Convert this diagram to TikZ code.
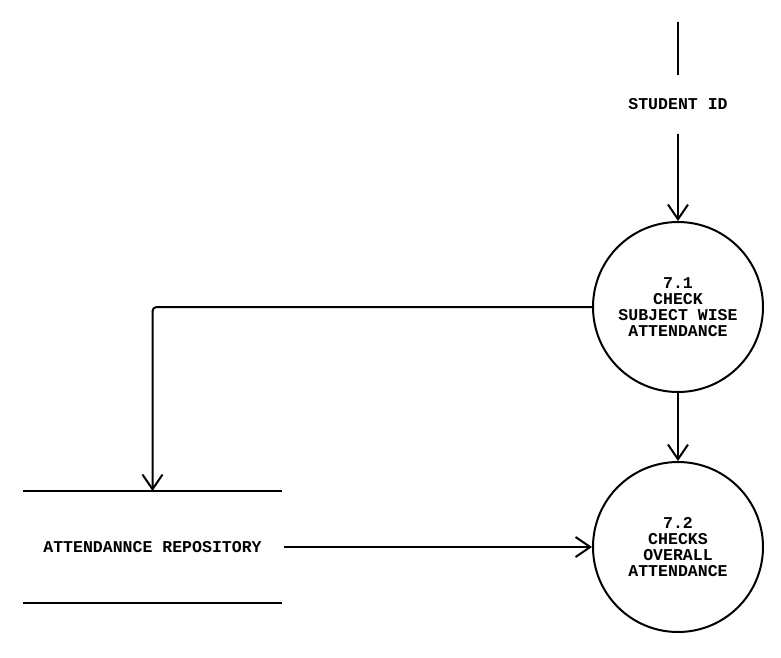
\documentclass[tikz,border=0pt]{standalone}
\usepackage{fontspec}
\setmonofont{Liberation Mono}
\usetikzlibrary{arrows.meta,calc}

\begin{document}
\begin{tikzpicture}[x=0.75pt,y=-0.75pt,line width=1.5pt,
    >={Straight Barb[length=11pt,width=15pt,line width=1.5pt]},
    txt/.style={font=\ttfamily\bfseries\fontsize{12.4}{12}\selectfont,align=center},
    process/.style={txt,draw,circle,minimum size=127.5pt,inner sep=0pt},
    store/.style={txt,minimum width=192.75pt,minimum height=82.5pt,inner sep=0pt}]
  \useasboundingbox (0,0) rectangle (781,657);
  % processes
  \node[process] (check) at (678,307) {7.1\\CHECK\\SUBJECT WISE\\ATTENDANCE};
  \node[process] (overall) at (678,547) {7.2\\CHECKS\\OVERALL\\ATTENDANCE};
  % data store
  \node[store] (repo) at (152.5,547) {ATTENDANNCE REPOSITORY};
  \draw (repo.north west) -- (repo.north east);
  \draw (repo.south west) -- (repo.south east);
  % input
  \coordinate (src) at (678,22);
  \node[txt,minimum height=42.75pt,inner sep=0pt] (sid) at (678,104.5) {STUDENT ID};
  \draw (src) -- (sid.north);
  \draw[->] (sid.south) -- (check.north);
  % flows
  \draw[->,rounded corners=3pt] (check.west) -| ($(repo.north west)!0.5!(repo.north east)$);
  \draw[->] (check.south) -- (overall.north);
  \draw[->] ($(repo.east)+(2,0)$) -- (overall.west);
\end{tikzpicture}
\end{document}
